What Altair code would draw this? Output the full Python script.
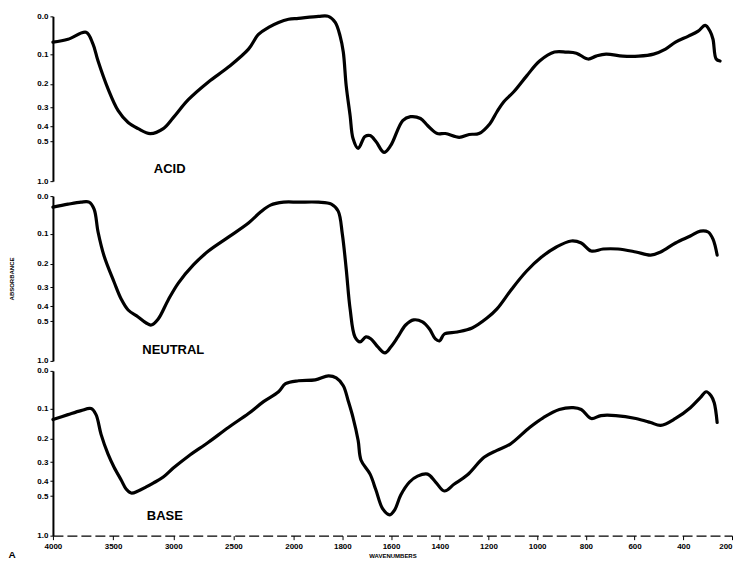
import altair as alt
import pandas as pd

# ---------------- data (wavenumber cm-1, % transmittance) ----------------
acid_wn = [4000, 3875, 3725, 3667, 3625, 3542, 3458, 3375, 3292, 3192, 3083, 3000,
           2875, 2708, 2542, 2375, 2292, 2208, 2125, 2042, 1980, 1898, 1857, 1829,
           1809, 1796, 1784, 1768, 1756, 1735, 1707, 1686, 1662, 1629, 1601, 1552,
           1520, 1479, 1450, 1410, 1377, 1320, 1279, 1239, 1194, 1165, 1137, 1096,
           1043, 990, 929, 880, 839, 791, 758, 717, 648, 583, 522, 473, 432, 379,
           339, 310, 290, 278, 265, 249]
acid_t = [85.9, 87.5, 91.3, 84.8, 75.6, 60.4, 48.5, 42.0, 38.7, 36.0, 38.7, 44.7,
          54.5, 64.2, 72.3, 82.1, 90.2, 94.0, 96.7, 98.4, 98.9, 100.0, 100.0, 96.7,
          89.2, 80.5, 62.0, 45.8, 33.3, 27.9, 34.4, 34.9, 31.7, 25.7, 29.5, 43.1,
          45.2, 44.2, 40.4, 36.0, 36.0, 33.9, 35.5, 36.0, 41.4, 47.9, 53.4, 58.8,
          67.5, 75.6, 80.5, 80.5, 79.9, 76.7, 78.3, 79.4, 78.3, 78.3, 79.4, 82.1,
          85.9, 89.2, 91.9, 95.1, 91.9, 87.5, 76.7, 75.6]

neutral_wn = [4000, 3875, 3767, 3700, 3658, 3625, 3575, 3492, 3433, 3375, 3292, 3225,
              3183, 3125, 3042, 2958, 2833, 2708, 2542, 2375, 2275, 2192, 2083, 1980,
              1898, 1845, 1817, 1800, 1784, 1768, 1748, 1727, 1703, 1682, 1654, 1625,
              1601, 1572, 1540, 1507, 1471, 1442, 1418, 1401, 1381, 1328, 1267, 1206,
              1165, 1104, 1043, 982, 921, 860, 819, 778, 729, 668, 595, 534, 493, 432,
              371, 330, 298, 278, 261]
neutral_t = [94.0, 95.6, 96.7, 96.7, 92.9, 80.4, 67.3, 53.1, 43.8, 37.8, 34.0, 30.7,
             29.6, 32.9, 43.3, 52.5, 62.4, 70.0, 77.6, 85.3, 91.3, 95.1, 96.7, 96.7,
             96.7, 95.6, 91.8, 79.3, 60.2, 38.4, 23.1, 20.4, 23.1, 22.0, 17.6, 14.4,
             17.6, 23.1, 29.6, 32.4, 31.3, 27.4, 22.0, 20.9, 24.7, 25.8, 28.0, 33.4,
             38.4, 49.3, 59.1, 66.7, 72.2, 75.5, 74.4, 70.0, 71.1, 71.1, 69.5, 67.8,
             69.5, 74.4, 78.2, 80.9, 80.4, 76.5, 67.8]

base_wn = [4000, 3875, 3767, 3683, 3642, 3600, 3542, 3492, 3433, 3392, 3350, 3292,
           3225, 3167, 3083, 3000, 2875, 2708, 2542, 2375, 2250, 2125, 2067, 1980,
           1911, 1857, 1825, 1796, 1776, 1756, 1735, 1723, 1686, 1662, 1634, 1605,
           1585, 1560, 1524, 1491, 1450, 1417, 1381, 1340, 1287, 1218, 1165, 1112,
           1031, 974, 909, 852, 819, 778, 738, 677, 595, 534, 493, 432, 371, 330,
           306, 286, 273, 261]
base_t = [73.4, 76.1, 78.3, 79.4, 76.1, 65.3, 54.5, 47.4, 40.4, 35.5, 33.3, 34.4,
          36.6, 38.7, 42.0, 46.9, 53.4, 61.0, 69.1, 76.7, 83.2, 88.6, 93.0, 94.6,
          95.1, 97.3, 96.2, 91.9, 83.7, 74.5, 62.0, 51.2, 43.6, 34.9, 24.6, 21.4,
          24.1, 32.2, 39.3, 42.5, 43.6, 39.3, 34.4, 38.2, 43.1, 52.8, 56.6, 59.9,
          69.1, 74.5, 78.9, 79.9, 78.9, 74.0, 75.6, 75.6, 74.0, 71.8, 70.2, 74.0,
          79.9, 85.4, 88.6, 86.4, 82.6, 71.8]

panel_names = ["ACID", "NEUTRAL", "BASE"]
label_wn = [3030, 3000, 3070]
label_t = [16.5, 16.0, 20.5]

absorbance_ticks = [0.0, 0.1, 0.2, 0.3, 0.4, 0.5, 1.0]
wavenumber_ticks = [4000, 3500, 3000, 2500, 2000, 1800, 1600, 1400, 1200, 1000,
                    800, 600, 400, 200]

# ---------------- chart ----------------
W, H = 680, 165
FONT = "Liberation Sans"
t_tick_pos = [100 * 10 ** (-a) for a in absorbance_ticks]

x_scale = alt.Scale(domain=[4000, 2000, 200], range=[0, 241, W], nice=False, zero=False)
y_scale = alt.Scale(domain=[10, 100], nice=False, zero=False)


def make_panel(i, wn, t, show_x, show_ytitle):
    df = pd.DataFrame({"wn": wn, "t": t})
    if show_x:
        x_axis = alt.Axis(values=wavenumber_ticks, format="d", title="WAVENUMBERS",
                          grid=False, labelOverlap=False, tickCount=40,
                          labelFont=FONT, labelFontSize=8, labelFontWeight="bold",
                          labelColor="black", tickColor="black", tickSize=4,
                          labelAlign=alt.ConditionalAxisLabelAlign(
                              condition={"test": "datum.value == 200", "value": "right"},
                              value="center"),
                          domainColor="black", domainWidth=1.3, domainDash=[10, 4],
                          labelPadding=3, labelFlush=False,
                          titleFont=FONT, titleFontSize=6, titleFontWeight="bold",
                          titlePadding=2, titleColor="black")
    else:
        x_axis = None
    y_kwargs = dict(values=t_tick_pos, grid=False, labelOverlap=False, tickCount=40,
                    labelExpr="format(abs(log(datum.value/100))/LN10, '.1f')",
                    labelFont=FONT, labelFontSize=8, labelFontWeight="bold",
                    labelColor="black", tickColor="black", tickSize=3,
                    domainColor="black", domainWidth=2, labelPadding=2)
    if show_ytitle:
        y_axis = alt.Axis(title="ABSORBANCE", titleFont=FONT, titleFontSize=6,
                          titleFontWeight="bold", titleColor="black", titleX=-41,
                          titleY=H / 2, titleAngle=-90, titleAlign="center",
                          titleBaseline="middle", **y_kwargs)
    else:
        y_axis = alt.Axis(title=None, **y_kwargs)

    line = alt.Chart(df).mark_line(
        color="black", strokeWidth=3.2, strokeJoin="round", strokeCap="round",
        interpolate="catmull-rom"
    ).encode(
        x=alt.X("wn:Q", scale=x_scale, axis=x_axis),
        y=alt.Y("t:Q", scale=y_scale, axis=y_axis),
    )
    lab = alt.Chart(pd.DataFrame({"wn": [label_wn[i]], "t": [label_t[i]],
                                  "name": [panel_names[i]]})).mark_text(
        font=FONT, fontSize=13, fontWeight="bold", color="black"
    ).encode(x=alt.X("wn:Q", scale=x_scale), y=alt.Y("t:Q", scale=y_scale), text="name:N")
    layers = [line, lab]
    if show_x:
        corner = alt.Chart(pd.DataFrame({"s": ["A"]})).mark_text(
            font=FONT, fontSize=10, fontWeight="bold", color="black", align="center",
            baseline="middle"
        ).encode(x=alt.value(-41), y=alt.value(H + 19), text="s:N")
        layers.append(corner)
    return alt.layer(*layers).properties(width=W, height=H)


top_two = alt.vconcat(
    make_panel(0, acid_wn, acid_t, False, False),
    make_panel(1, neutral_wn, neutral_t, False, True),
    spacing=7,
)
chart = alt.vconcat(
    top_two,
    make_panel(2, base_wn, base_t, True, False),
    spacing=2,
).properties(
    padding={"left": 0, "top": 4, "right": 0, "bottom": 0}
).configure_view(stroke=None).configure_axisY(minExtent=45, maxExtent=45)

chart.save("out.html", embed_options={"renderer": "svg", "actions": False})
